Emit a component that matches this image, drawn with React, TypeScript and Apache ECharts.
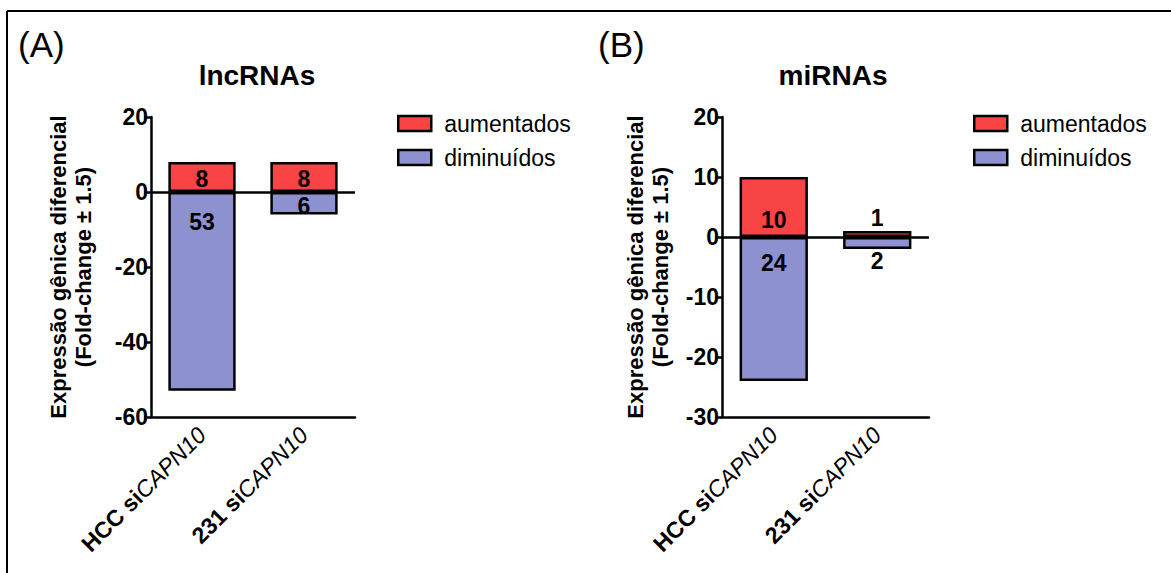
import React, { useEffect, useRef } from "react";
import * as echarts from "echarts";

const categories = ["HCC siCAPN10", "231 siCAPN10"];
const lncUp = [8, 8];
const lncDown = [-53, -6];
const miUp = [10, 1];
const miDown = [-24, -2];
const seriesNames = ["aumentados", "diminuídos"];
const panelTitles = ["lncRNAs", "miRNAs"];
const yAxisName = "Expressão gênica diferencial\n(Fold-change ± 1.5)";

const FONT = "'Liberation Sans', Arial, sans-serif";
const RED = "#F84444";
const BLUE = "#8E91D0";

export default function App() {
  const ref = useRef<HTMLDivElement>(null);
  useEffect(() => {
    if (!ref.current) return;
    const chart = echarts.init(ref.current, null, { renderer: "svg" });

    const xLabel = (v: string) => {
      const idx = v.indexOf(" si");
      return `{b|${v.slice(0, idx)} si}{i|${v.slice(idx + 3)}}`;
    };

    const xAxisBase = (gridIndex: number) => ({
      type: "category",
      gridIndex,
      data: categories,
      axisLine: { onZero: false, lineStyle: { color: "#000", width: 2.5 } },
      axisTick: { show: false },
      axisLabel: {
        rotate: 45,
        margin: 14,
        formatter: xLabel,
        rich: {
          b: { fontFamily: FONT, fontSize: 23, fontWeight: "bold", color: "#000" },
          i: { fontFamily: FONT, fontSize: 23, fontStyle: "italic", color: "#000" },
        },
      },
    });

    const yAxisBase = (gridIndex: number, min: number, max: number, interval: number) => ({
      type: "value",
      gridIndex,
      min,
      max,
      interval,
      splitLine: { show: false },
      axisLine: { show: true, lineStyle: { color: "#000", width: 2.5 } },
      axisTick: { show: true, length: 7, lineStyle: { color: "#000", width: 2.5 } },
      axisLabel: { fontFamily: FONT, fontSize: 23, fontWeight: "bold", color: "#000", margin: 3 },
    });

    const labelBase = {
      show: true,
      fontFamily: FONT,
      fontSize: 23,
      fontWeight: "bold",
      color: "#000",
      formatter: (p: any) => String(Math.abs(p.value)),
    };

    const zeroLine = {
      silent: true,
      symbol: ["none", "none"],
      label: { show: false },
      lineStyle: { color: "#000", width: 2.5, type: "solid" },
      data: [{ yAxis: 0 }],
    };

    const mk = (vals: number[], positions: any[]) =>
      vals.map((v, i) => ({ value: v, label: positions[i] }));

    const bar = (name: string, color: string, axis: number, stack: string, data: any[], withZero: boolean) => ({
      type: "bar",
      name,
      xAxisIndex: axis,
      yAxisIndex: axis,
      stack,
      barWidth: "66%",
      itemStyle: { color, borderColor: "#000", borderWidth: 2.5 },
      label: labelBase,
      data,
      markLine: withZero ? zeroLine : undefined,
      z: 2,
    });

    const legendBase = (left: number) => ({
      orient: "vertical",
      left,
      top: 112,
      itemWidth: 33,
      itemHeight: 15,
      itemGap: 11,
      icon: "rect",
      itemStyle: { borderColor: "#000", borderWidth: 2.5 },
      textStyle: { fontFamily: FONT, fontSize: 23, color: "#000", padding: [0, 0, 0, 8] },
      data: seriesNames,
      selectedMode: false,
      padding: [0, 0, 0, 0],
    });

    const yName = (x: number) => ({
      type: "text",
      x,
      y: 267,
      rotation: Math.PI / 2,
      style: {
        text: yAxisName,
        fontFamily: FONT,
        fontSize: 22,
        fontWeight: "bold",
        fill: "#000",
        align: "center",
        verticalAlign: "middle",
        lineHeight: 25,
      },
    });

    chart.setOption({
      animation: false,
      backgroundColor: "#fff",
      title: [
        {
          text: panelTitles[0],
          left: 252,
          top: 56,
          textAlign: "center",
          textStyle: { fontFamily: FONT, fontSize: 28, fontWeight: "bold", color: "#000" },
        },
        {
          text: panelTitles[1],
          left: 828,
          top: 56,
          textAlign: "center",
          textStyle: { fontFamily: FONT, fontSize: 28, fontWeight: "bold", color: "#000" },
        },
      ],
      legend: [legendBase(397), legendBase(973)],
      grid: [
        { left: 151, top: 117, width: 204, height: 300 },
        { left: 722, top: 117, width: 207, height: 300 },
      ],
      xAxis: [xAxisBase(0), xAxisBase(1)],
      yAxis: [yAxisBase(0, -60, 20, 20), yAxisBase(1, -30, 20, 10)],
      series: [
        bar(
          seriesNames[0],
          RED,
          0,
          "a",
          mk(lncUp, [
            { position: "inside", offset: [0, 2] },
            { position: "inside", offset: [0, 2] },
          ]),
          false
        ),
        bar(
          seriesNames[1],
          BLUE,
          0,
          "a",
          mk(lncDown, [{ position: "insideTop", distance: 18 }, { position: "inside", offset: [0, 3] }]),
          true
        ),
        bar(
          seriesNames[0],
          RED,
          1,
          "b",
          mk(miUp, [{ position: "insideBottom", distance: 6 }, { position: "top", distance: 2 }]),
          false
        ),
        bar(
          seriesNames[1],
          BLUE,
          1,
          "b",
          mk(miDown, [{ position: "insideTop", distance: 14 }, { position: "bottom", distance: 0 }]),
          true
        ),
      ],
      graphic: [
        { type: "line", shape: { x1: 7, y1: 11, x2: 1171, y2: 11 }, style: { stroke: "#000", lineWidth: 2 } },
        { type: "line", shape: { x1: 7, y1: 11, x2: 7, y2: 573 }, style: { stroke: "#000", lineWidth: 2 } },
        {
          type: "text",
          left: 18,
          top: 27,
          style: { text: "(A)", fontFamily: FONT, fontSize: 35, fill: "#000" },
        },
        {
          type: "text",
          left: 598,
          top: 27,
          style: { text: "(B)", fontFamily: FONT, fontSize: 35, fill: "#000" },
        },
        yName(71),
        yName(648),
      ],
    });
    return () => chart.dispose();
  }, []);
  return (
    <div
      ref={ref}
      style={{ position: "fixed", left: 0, top: 0, width: 1171, height: 573, background: "#fff" }}
    />
  );
}
